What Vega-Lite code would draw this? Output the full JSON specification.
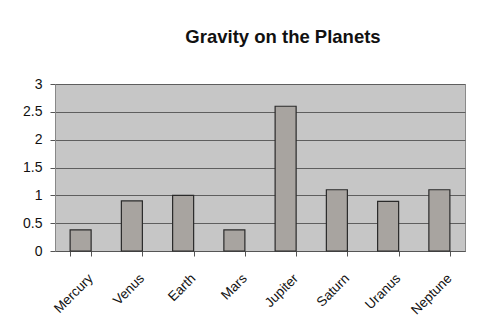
{
  "$schema": "https://vega.github.io/schema/vega-lite/v6.json",
  "autosize": {"type": "none"},
  "width": 410,
  "height": 167,
  "padding": {"left": 55, "top": 84, "right": 37, "bottom": 72},
  "background": "white",
  "title": {
    "text": "Gravity on the Planets",
    "font": "Liberation Sans",
    "fontSize": 18.5,
    "fontWeight": "bold",
    "color": "#111111",
    "anchor": "middle",
    "dx": 23,
    "offset": 31
  },
  "data": {
    "values": [
      {"planet": "Mercury", "gravity": 0.38},
      {"planet": "Venus", "gravity": 0.9},
      {"planet": "Earth", "gravity": 1.0},
      {"planet": "Mars", "gravity": 0.38},
      {"planet": "Jupiter", "gravity": 2.6},
      {"planet": "Saturn", "gravity": 1.1},
      {"planet": "Uranus", "gravity": 0.89},
      {"planet": "Neptune", "gravity": 1.1}
    ]
  },
  "mark": {"type": "bar", "color": "#a8a4a0", "stroke": "#2a2a2a", "strokeWidth": 1.2},
  "encoding": {
    "x": {
      "field": "planet",
      "type": "nominal",
      "sort": null,
      "scale": {"paddingInner": 0.59, "paddingOuter": 0.295},
      "axis": {
        "title": null,
        "labelAngle": -45,
        "labelFont": "Liberation Sans",
        "labelFontSize": 13.5,
        "labelColor": "#111111",
        "labelOffset": 5,
        "labelPadding": 15,
        "tickBand": "extent",
        "tickColor": "#555555",
        "tickSize": 5,
        "domainColor": "#555555"
      }
    },
    "y": {
      "field": "gravity",
      "type": "quantitative",
      "scale": {"domain": [0, 3], "nice": false},
      "axis": {
        "title": null,
        "values": [0, 0.5, 1, 1.5, 2, 2.5, 3],
        "format": "~g",
        "labelFont": "Liberation Sans",
        "labelFontSize": 14,
        "labelColor": "#111111",
        "tickColor": "#555555",
        "tickSize": 5,
        "labelPadding": 8,
        "domainColor": "#888888",
        "grid": true,
        "gridColor": "#5e5e5e",
        "gridWidth": 1
      }
    }
  },
  "config": {
    "view": {"fill": "#c6c6c6", "stroke": "#8a8a8a", "strokeWidth": 1}
  }
}
